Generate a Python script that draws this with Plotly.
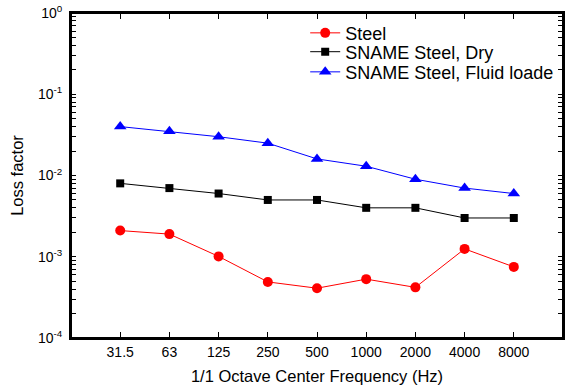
import plotly.graph_objects as go

freqs = ["31.5", "63", "125", "250", "500", "1000", "2000", "4000", "8000"]
steel = [0.0021, 0.0019, 0.00101, 0.00049, 0.00041, 0.00053, 0.00042, 0.00125, 0.00075]
sname_dry = [0.008, 0.007, 0.006, 0.005, 0.005, 0.004, 0.004, 0.003, 0.003]
sname_fluid = [0.04, 0.035, 0.030, 0.025, 0.016, 0.013, 0.009, 0.007, 0.006]

ytick_major = [1, 0.1, 0.01, 0.001, 0.0001]
ytick_major_text = ["10<sup>0</sup>\u00a0", "10<sup>-1</sup>\u00a0", "10<sup>-2</sup>\u00a0",
                    "10<sup>-3</sup>\u00a0", "10<sup>-4</sup>\u00a0"]
ytick_minor = [m * d for d in [0.0001, 0.001, 0.01, 0.1] for m in range(2, 10)]
ytick_vals = ytick_major + ytick_minor
ytick_text = ytick_major_text + [""] * len(ytick_minor)

FONT = "Liberation Sans, Arial, sans-serif"

fig = go.Figure()
fig.add_trace(go.Scatter(x=freqs, y=steel, name="Steel", mode="lines+markers",
                         line=dict(color="#ff0000", width=1), legend="legend",
                         marker=dict(symbol="circle", size=10, color="#ff0000")))
fig.add_trace(go.Scatter(x=freqs, y=sname_dry, name="SNAME Steel, Dry", mode="lines+markers",
                         line=dict(color="#000000", width=1), legend="legend2",
                         marker=dict(symbol="square", size=8, color="#000000")))
fig.add_trace(go.Scatter(x=freqs, y=sname_fluid, name="SNAME Steel, Fluid loade", mode="lines+markers",
                         line=dict(color="#0000ff", width=1), legend="legend3",
                         marker=dict(symbol="triangle-up", size=11, color="#0000ff")))

leg_common = dict(x=0.476, xanchor="left", yanchor="middle",
                  bgcolor="rgba(0,0,0,0)", borderwidth=0,
                  font=dict(size=18, family=FONT), itemwidth=30)

fig.update_layout(
    width=568, height=389,
    margin=dict(l=71, r=5, t=13, b=51),
    paper_bgcolor="white", plot_bgcolor="white",
    font=dict(family=FONT, size=14, color="black"),
    showlegend=True,
    legend=dict(y=0.938, **leg_common),
    legend2=dict(y=0.880, **leg_common),
    legend3=dict(y=0.818, **leg_common),
    xaxis=dict(type="category", range=[-1, 9], automargin=False,
               showline=True, linecolor="black", linewidth=2, mirror="ticks",
               ticks="inside", ticklen=6, tickcolor="black", tickwidth=1,
               showgrid=False, zeroline=False,
               tickfont=dict(size=14),
               title=dict(text="1/1 Octave Center Frequency (Hz)", font=dict(size=16.5), standoff=12)),
    yaxis=dict(type="log", range=[-4, 0], automargin=False,
               tickmode="array", tickvals=ytick_vals, ticktext=ytick_text,
               showline=True, linecolor="black", linewidth=2, mirror="ticks",
               ticks="inside", ticklen=5, tickcolor="black", tickwidth=1,
               showgrid=False, zeroline=False,
               tickfont=dict(size=14), ticklabeloverflow="allow",
               title=dict(text="Loss factor", font=dict(size=16.5), standoff=10)),
    shapes=[dict(type="rect", xref="paper", yref="paper", x0=0, x1=1, y0=0, y1=1,
                 line=dict(color="black", width=2), fillcolor="rgba(0,0,0,0)", layer="above")],
)

fig.write_html("out.html", config={"displayModeBar": False},
               post_script="document.body.style.margin='0';")
